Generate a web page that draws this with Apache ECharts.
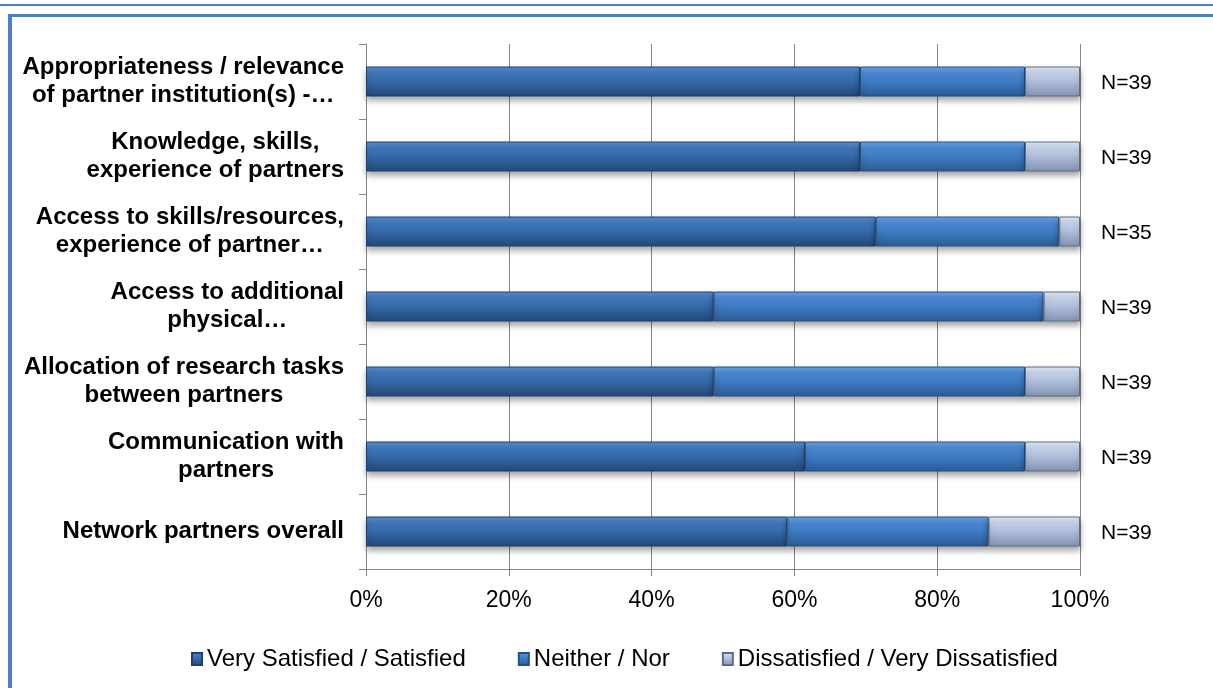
<!DOCTYPE html>
<html>
<head>
<meta charset="utf-8">
<title>Network partners satisfaction</title>
<script src="https://cdn.jsdelivr.net/npm/echarts@6/dist/echarts.min.js"></script>
<style>
  html, body { margin: 0; padding: 0; background: #ffffff; }
  #chart { width: 1213px; height: 688px; }
</style>
</head>
<body>
<div id="chart"></div>
<script>
// Survey items, top to bottom
var categories = [
  ['Appropriateness / relevance', 'of partner institution(s) -\u2026'],
  ['Knowledge, skills,', 'experience of partners'],
  ['Access to skills/resources,', 'experience of partner\u2026'],
  ['Access to additional', 'physical\u2026'],
  ['Allocation of research tasks', 'between partners'],
  ['Communication with', 'partners'],
  ['Network partners overall']
];

// Share of respondents (%) per answer group
var satisfied    = [69.2, 69.2, 71.4, 48.7, 48.7, 61.5, 59.0];
var neither      = [23.1, 23.1, 25.7, 46.2, 43.6, 30.8, 28.2];
var dissatisfied = [7.7, 7.7, 2.9, 5.1, 7.7, 7.7, 12.8];

// Number of respondents per item
var respondents = [39, 39, 35, 39, 39, 39, 39];

var seriesNames = ['Very Satisfied / Satisfied', 'Neither / Nor', 'Dissatisfied / Very Dissatisfied'];
var xTicks = [0, 20, 40, 60, 80, 100];

var FONT = '"Liberation Sans", Arial, Helvetica, sans-serif';

function vGrad(stops) {
  return new echarts.graphic.LinearGradient(0, 0, 0, 1, stops.map(function (c, i) {
    return { offset: i / (stops.length - 1), color: c };
  }));
}

var fills = [
  vGrad(['#5a8fd0', '#3f76bb', '#3569a8', '#2b5890', '#24497a']),
  vGrad(['#6aa4e6', '#4a88d2', '#3e7bc4', '#346bad', '#2c5b94']),
  vGrad(['#e2eaf8', '#c5d2ea', '#aebdda', '#98a8c6', '#8594b2'])
];
var edges = ['#1f3f68', '#26507f', '#5d6c88'];

var chart = echarts.init(document.getElementById('chart'), null, { renderer: 'canvas' });

var labelKeys = categories.map(function (_, i) { return 'c' + i; });

function makeSeries(idx, values) {
  var s = {
    name: seriesNames[idx],
    type: 'bar',
    stack: 'total',
    barWidth: 30,
    data: values,
    itemStyle: {
      color: fills[idx],
      borderColor: edges[idx],
      borderWidth: 1,
      shadowColor: 'rgba(0,0,0,0.35)',
      shadowBlur: 6,
      shadowOffsetY: 4
    },
    emphasis: { disabled: true }
  };
  if (idx === 2) {
    s.label = {
      show: true,
      position: 'right',
      distance: 21,
      offset: [0, 2],
      color: '#000',
      fontFamily: FONT,
      fontSize: 21,
      formatter: function (p) { return 'N=' + respondents[p.dataIndex]; }
    };
  }
  return s;
}

var option = {
  backgroundColor: '#ffffff',
  animation: false,
  grid: { left: 366, right: 133, top: 44, bottom: 119, containLabel: false },
  legend: {
    bottom: 12,
    left: 186,
    icon: 'rect',
    itemWidth: 10,
    itemHeight: 12,
    itemGap: 52,
    textStyle: { fontFamily: FONT, fontSize: 24, color: '#000' },
    data: seriesNames
  },
  xAxis: {
    type: 'value',
    min: xTicks[0],
    max: xTicks[xTicks.length - 1],
    interval: xTicks[1] - xTicks[0],
    axisLine: { show: true, lineStyle: { color: '#868686', width: 1 } },
    axisTick: { show: true, length: 7, lineStyle: { color: '#868686' } },
    splitLine: { show: true, lineStyle: { color: '#868686', width: 1 } },
    axisLabel: {
      margin: 20,
      color: '#000',
      fontFamily: FONT,
      fontSize: 23,
      formatter: '{value}%'
    }
  },
  yAxis: {
    type: 'category',
    inverse: true,
    data: labelKeys,
    axisLine: { show: true, lineStyle: { color: '#868686', width: 1 } },
    axisTick: { show: true, length: 7, lineStyle: { color: '#868686' } },
    splitLine: { show: false },
    axisLabel: {
      margin: 22,
      align: 'right',
      formatter: function (v) {
        var lines = categories[labelKeys.indexOf(v)];
        return lines.map(function (t) { return '{c|' + t + '}'; }).join('\n');
      },
      rich: {
        c: {
          align: 'center',
          fontFamily: FONT,
          fontWeight: 'bold',
          fontSize: 24,
          lineHeight: 28,
          color: '#000'
        }
      }
    }
  },
  series: [
    makeSeries(0, satisfied),
    makeSeries(1, neither),
    makeSeries(2, dissatisfied)
  ],
  graphic: [
    // thin rule across the top
    { type: 'rect', silent: true, shape: { x: 0, y: 4, width: 1213, height: 2 }, style: { fill: '#4f81bd' } },
    // frame: top edge and left edge
    { type: 'rect', silent: true, shape: { x: 8, y: 14, width: 1205, height: 3 }, style: { fill: '#4f81bd' } },
    { type: 'rect', silent: true, shape: { x: 8, y: 14, width: 4, height: 674 }, style: { fill: '#4f81bd' } }
  ]
};

chart.setOption(option);
</script>
</body>
</html>
